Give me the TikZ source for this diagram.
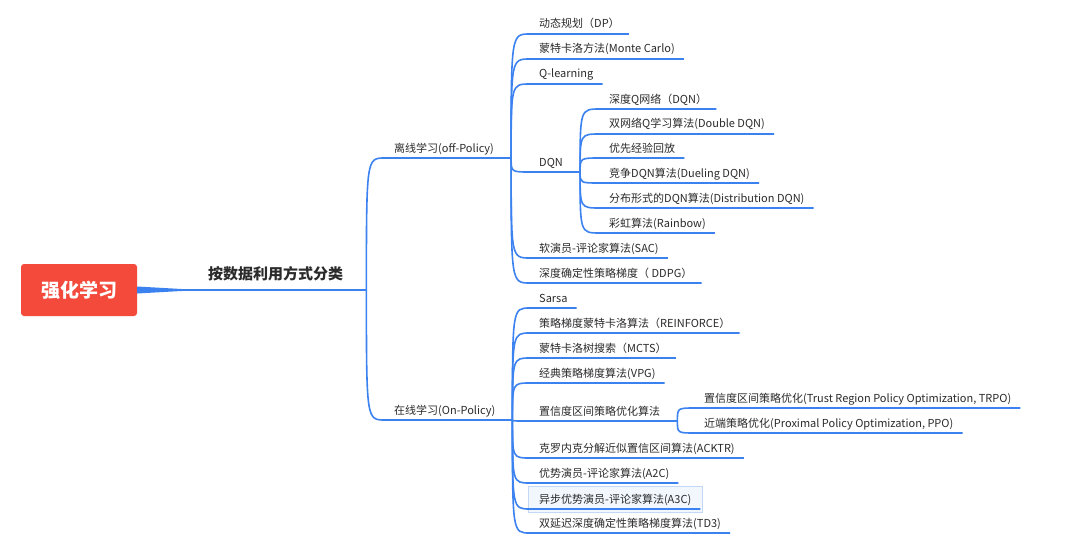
\documentclass[tikz,border=0pt]{standalone}
\usepackage{fontspec}
\setmainfont{Noto Sans CJK SC}
\usetikzlibrary{backgrounds}

\definecolor{branchblue}{HTML}{3B82F0}
\definecolor{rootred}{HTML}{F44A3C}
\definecolor{textgray}{HTML}{2B2B2B}
\definecolor{selfill}{HTML}{F2F7FE}
\definecolor{seldraw}{HTML}{C3D8F6}

\begin{document}
\begin{tikzpicture}[
  x=1pt, y=-1pt,
  font=\fontsize{11}{13}\selectfont,
  text=textgray,
  root/.style={rectangle, fill=rootred, rounded corners=3pt, minimum width=116pt, minimum height=52pt, text=white, font=\fontsize{19}{22}\selectfont\bfseries},
  category/.style={anchor=south west, minimum width=181pt, inner xsep=0pt, inner ysep=7.3pt, text depth=3pt, font=\fontsize{15}{18}\selectfont\bfseries},
  topic/.style={anchor=south west, inner xsep=9pt, inner ysep=3pt, text depth=2.8pt},
  hub/.style={topic, execute at end node={\hspace*{8pt}}},
  branch/.style={draw=branchblue, line width=1.6pt},
  twig/.style={branch, to path={.. controls (\tikztostart |- \tikztotarget.south west) .. (\tikztotarget.south west) -- (\tikztotarget.south east)}},
  selbox/.style={draw=seldraw, fill=selfill, line width=1pt}
]
\useasboundingbox (0,0) rectangle (1083,559);

% NODES
\node[root] (root) at (79,290) {强化学习};
\node[category] (cat) at (185,290) {按数据利用方式分类};

\node[hub] (off) at (385,158) {离线学习(off-Policy)};
\node[topic] (dp) at (530,34) {动态规划（DP）};
\node[topic] (mc) at (530,59) {蒙特卡洛方法(Monte Carlo)};
\node[topic] (ql) at (530,84) {Q-learning};
\node[hub] (dqn) at (530,172) {DQN};
\node[topic] (dqn1) at (600,109) {深度Q网络（DQN）};
\node[topic] (ddqn) at (600,134) {双网络Q学习算法(Double DQN)};
\node[topic] (per) at (600,158) {优先经验回放};
\node[topic] (duel) at (600,183) {竞争DQN算法(Dueling DQN)};
\node[topic] (dist) at (600,208) {分布形式的DQN算法(Distribution DQN)};
\node[topic] (rain) at (600,233) {彩虹算法(Rainbow)};
\node[topic] (sac) at (530,258) {软演员-评论家算法(SAC)};
\node[topic] (ddpg) at (530,283) {深度确定性策略梯度（ DDPG）};

\node[hub] (on) at (385,420) {在线学习(On-Policy)};
\node[topic] (sarsa) at (530,308) {Sarsa};
\node[topic] (reinforce) at (530,333) {策略梯度蒙特卡洛算法（REINFORCE）};
\node[topic] (mcts) at (530,358) {蒙特卡洛树搜索（MCTS）};
\node[topic] (vpg) at (530,383) {经典策略梯度算法(VPG)};
\node[hub] (tr) at (530,421) {置信度区间策略优化算法};
\node[topic] (trpo) at (695,408) {置信度区间策略优化(Trust Region Policy Optimization, TRPO)};
\node[topic] (ppo) at (695,433) {近端策略优化(Proximal Policy Optimization, PPO)};
\node[topic] (acktr) at (530,458) {克罗内克分解近似置信区间算法(ACKTR)};
\node[topic] (a2c) at (530,483) {优势演员-评论家算法(A2C)};
\node[topic] (a3c) at (530,509) {异步优势演员-评论家算法(A3C)};
\node[topic] (td3) at (530,533) {双延迟深度确定性策略梯度算法(TD3)};

% SELECTION
\begin{scope}[on background layer]
\fill[white] (0,0) rectangle (1083,559);
\draw[selbox] ([xshift=-2pt,yshift=-3pt]a3c.south west) rectangle ([xshift=2pt,yshift=4pt]a3c.north east);
\end{scope}

% BRANCHES
\fill[branchblue] ([yshift=3.5pt]root.east) -- ([yshift=0.8pt]cat.south west)
  -- ([yshift=-0.8pt]cat.south west) -- ([yshift=-3.5pt]root.east) -- cycle;
\draw[branch] (cat.south west) -- (cat.south east);
\draw[twig] (cat.south east) to (off);
\draw[twig] (cat.south east) to (on);

\draw[twig] (off.south east) to (dp);
\draw[twig] (off.south east) to (mc);
\draw[twig] (off.south east) to (ql);
\draw[twig] (off.south east) to (dqn);
\draw[twig] (off.south east) to (sac);
\draw[twig] (off.south east) to (ddpg);

\draw[twig] (dqn.south east) to (dqn1);
\draw[twig] (dqn.south east) to (ddqn);
\draw[twig] (dqn.south east) to (per);
\draw[twig] (dqn.south east) to (duel);
\draw[twig] (dqn.south east) to (dist);
\draw[twig] (dqn.south east) to (rain);

\draw[twig] (on.south east) to (sarsa);
\draw[twig] (on.south east) to (reinforce);
\draw[twig] (on.south east) to (mcts);
\draw[twig] (on.south east) to (vpg);
\draw[twig] (on.south east) to (tr);
\draw[twig] (on.south east) to (acktr);
\draw[twig] (on.south east) to (a2c);
\draw[twig] (on.south east) to (a3c);
\draw[twig] (on.south east) to (td3);

\draw[twig] (tr.south east) to (trpo);
\draw[twig] (tr.south east) to (ppo);

\end{tikzpicture}
\end{document}
